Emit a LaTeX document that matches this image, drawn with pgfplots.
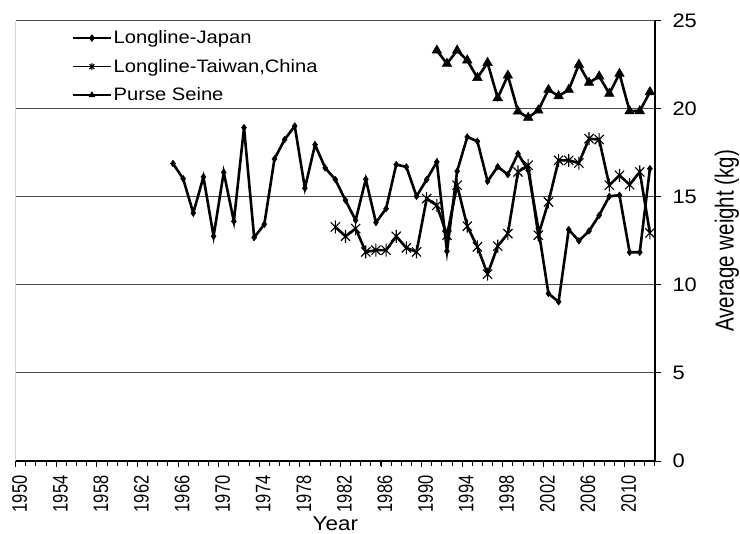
\documentclass[border=0pt]{standalone}
\usepackage{fontspec}
\setmainfont{Liberation Sans}[FakeStretch=1.12]
\newfontfamily\plainsans{Liberation Sans}
\usepackage{graphicx}
\usepackage{pgfplots}
\pgfplotsset{compat=1.18}
% rotated labels: stretch across the text so they look like the horizontal ones
\newcommand\rl[1]{\scalebox{1}[1.27]{\plainsans #1}}

% Excel-like star: an x with a vertical bar
\pgfdeclareplotmark{xstar}{%
  \pgfpathmoveto{\pgfqpoint{0pt}{\pgfplotmarksize}}%
  \pgfpathlineto{\pgfqpoint{0pt}{-\pgfplotmarksize}}%
  \pgfpathmoveto{\pgfqpoint{.7071\pgfplotmarksize}{.7071\pgfplotmarksize}}%
  \pgfpathlineto{\pgfqpoint{-.7071\pgfplotmarksize}{-.7071\pgfplotmarksize}}%
  \pgfpathmoveto{\pgfqpoint{-.7071\pgfplotmarksize}{.7071\pgfplotmarksize}}%
  \pgfpathlineto{\pgfqpoint{.7071\pgfplotmarksize}{-.7071\pgfplotmarksize}}%
  \pgfusepathqstroke}

\pgfplotstableread{
year w
1965 16.89
1966 16.03
1967 14.08
1968 16.13
1969 12.76
1970 16.39
1971 13.61
1972 18.93
1973 12.69
1974 13.44
1975 17.15
1976 18.25
1977 19.02
1978 15.49
1979 17.96
1980 16.64
1981 15.98
1982 14.80
1983 13.67
1984 16.00
1985 13.54
1986 14.33
1987 16.83
1988 16.70
1989 15.03
1990 15.98
1991 16.98
1992 11.91
1993 16.45
1994 18.40
1995 18.15
1996 15.88
1997 16.71
1998 16.26
1999 17.45
2000 16.50
2001 13.20
2002 9.51
2003 9.04
2004 13.14
2005 12.50
2006 13.06
2007 13.95
2008 15.03
2009 15.09
2010 11.85
2011 11.85
2012 16.60
}\japan

\pgfplotstableread{
year w
1981 13.29
1982 12.76
1983 13.20
1984 11.87
1985 11.97
1986 11.97
1987 12.76
1988 12.10
1989 11.87
1990 14.90
1991 14.52
1992 12.82
1993 15.66
1994 13.33
1995 12.16
1996 10.61
1997 12.20
1998 12.91
1999 16.41
2000 16.79
2001 12.82
2002 14.71
2003 17.07
2004 17.07
2005 16.92
2006 18.30
2007 18.25
2008 15.66
2009 16.22
2010 15.69
2011 16.41
2012 12.95
}\taiwan

\pgfplotstableread{
year w
1991 23.31
1992 22.56
1993 23.31
1994 22.75
1995 21.76
1996 22.61
1997 20.61
1998 21.89
1999 19.85
2000 19.50
2001 19.91
2002 21.08
2003 20.72
2004 21.08
2005 22.51
2006 21.48
2007 21.84
2008 20.86
2009 21.99
2010 19.87
2011 19.87
2012 20.95
}\purse

\begin{document}
\begin{tikzpicture}
\begin{axis}[
    scale only axis,
    width=639.3bp, height=440.3bp,
    xmin=1949.5, xmax=2012.5,
    ymin=0, ymax=25,
    axis x line*=bottom,
    axis y line*=right,
    axis line style={black, line width=1.6bp},
    tick align=outside,
    tick style={black, line width=1bp},
    major tick length=6bp,
    minor tick length=5bp,
    xtick={1949.5,1953.5,1957.5,1961.5,1965.5,1969.5,1973.5,1977.5,1981.5,1985.5,1989.5,1993.5,1997.5,2001.5,2005.5,2009.5},
    xticklabels={\rl{1950},\rl{1954},\rl{1958},\rl{1962},\rl{1966},\rl{1970},\rl{1974},\rl{1978},\rl{1982},\rl{1986},\rl{1990},\rl{1994},\rl{1998},\rl{2002},\rl{2006},\rl{2010}},
    minor xtick={1950.5,1951.5,...,2012.5},
    xticklabel style={rotate=90, anchor=east, font=\fontsize{16.5bp}{20bp}\selectfont, xshift=-5bp, yshift=-4bp},
    ytick={0,5,...,25},
    yticklabel style={font=\fontsize{19.5bp}{22bp}\selectfont, xshift=8bp},
    /pgf/number format/assume math mode=true,
    ymajorgrids,
    grid style={black!70, line width=1bp},
    xlabel={Year},
    xlabel style={at={(axis description cs:0.5,-0.1425)}, anchor=center, font=\fontsize{20bp}{23bp}\selectfont},
    ylabel={\rl{Average weight (kg)}},
    ylabel style={at={(axis description cs:1.1126,0.5)}, anchor=center, rotate=0, font=\fontsize{20.5bp}{24bp}\selectfont},
    legend style={draw=none, fill=none, at={(axis description cs:0.088,0.982)}, anchor=north west,
        font=\fontsize{18bp}{21bp}\selectfont, row sep=10bp, inner sep=0pt},
    legend cell align=left,
    legend image code/.code={
        \draw[#1, line width=1.5bp, mark=none] (0bp,0bp) -- (38bp,0bp);
        \draw[#1, line width=0.9bp, mark size=3.4bp] plot coordinates {(19bp,0bp)};
    },
]
\draw[black!45, line width=1.2bp] (rel axis cs:0,0) -- (rel axis cs:0,1);
\coordinate (sw) at (rel axis cs:0,0);

\addplot[black, line width=2.6bp, mark=diamond*, mark size=3.3bp, mark options={line width=0.5bp}]
    table[x=year, y=w] {\japan};
\addlegendentry{Longline-Japan}

\addplot[black, line width=2.6bp, mark=xstar, mark size=6.5bp, mark options={line width=1.1bp}]
    table[x=year, y=w] {\taiwan};
\addlegendentry{Longline-Taiwan,China}

\addplot[black, line width=2.6bp, mark=triangle*, mark size=5.5bp, mark options={line width=0.5bp}]
    table[x=year, y=w] {\purse};
\addlegendentry{Purse Seine}
\end{axis}
\pgfresetboundingbox
\path[use as bounding box] ([xshift=-15.7bp, yshift=-73bp]sw) rectangle ++(740bp,534bp);
\end{tikzpicture}
\end{document}
